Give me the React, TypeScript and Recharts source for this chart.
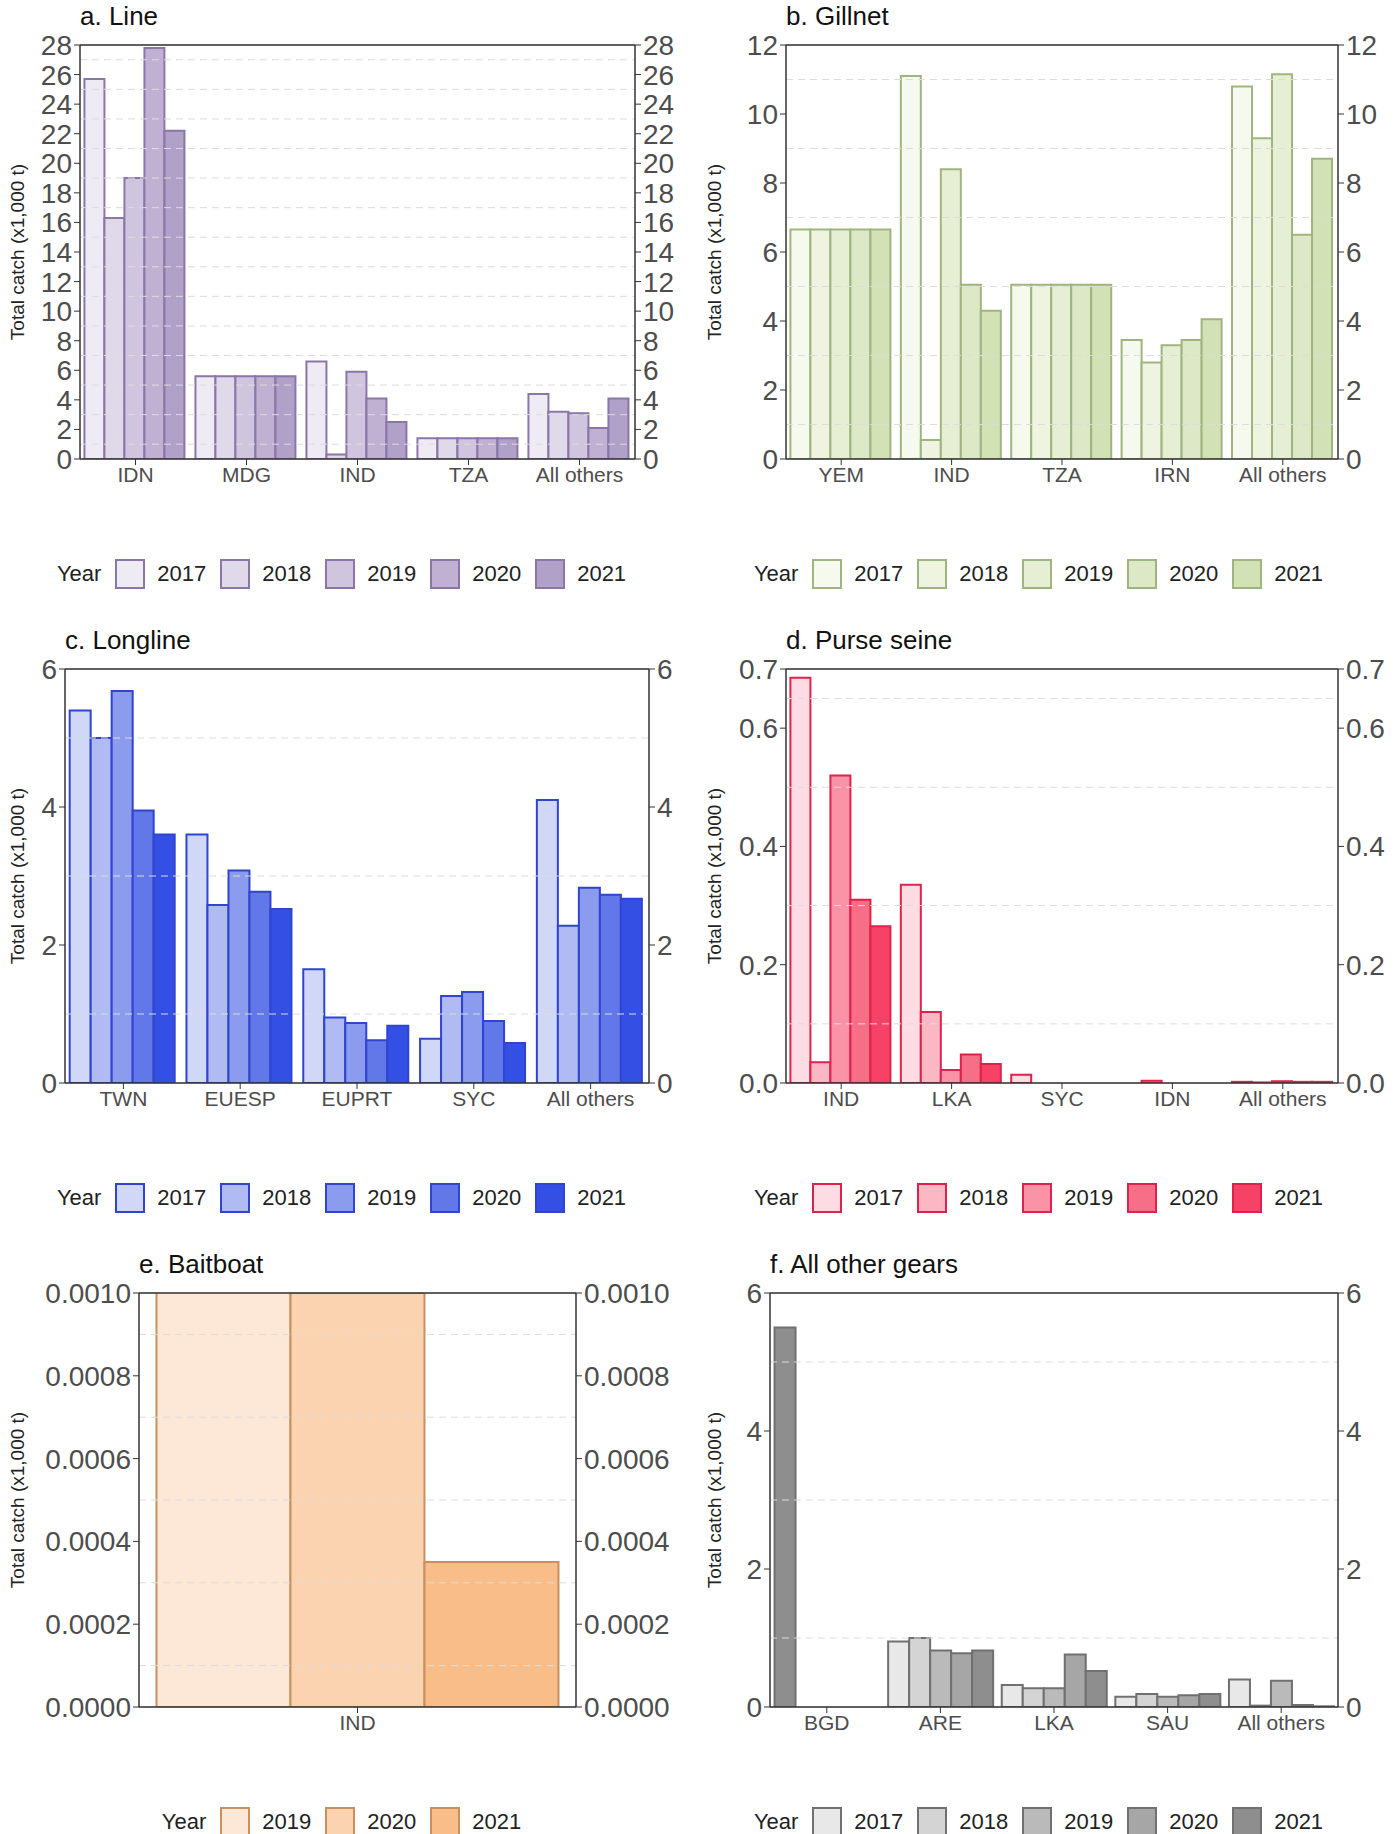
import React from "react";
import { BarChart, Bar, XAxis, YAxis, CartesianGrid, ReferenceLine, Cell } from "recharts";

document.body.style.margin = "0";

const YEARS5 = ["2017", "2018", "2019", "2020", "2021"];
const YEARS3 = ["2019", "2020", "2021"];

// a. Line
const lineCats = ["IDN", "MDG", "IND", "TZA", "All others"];
const lineVals = [
  [25.7, 16.3, 19.0, 27.8, 22.2],
  [5.6, 5.6, 5.6, 5.6, 5.6],
  [6.6, 0.3, 5.9, 4.1, 2.5],
  [1.4, 1.4, 1.4, 1.4, 1.4],
  [4.4, 3.2, 3.1, 2.1, 4.1],
];
const lineTicks = [0, 2, 4, 6, 8, 10, 12, 14, 16, 18, 20, 22, 24, 26, 28];

// b. Gillnet
const gillCats = ["YEM", "IND", "TZA", "IRN", "All others"];
const gillVals = [
  [6.65, 6.65, 6.65, 6.65, 6.65],
  [11.1, 0.55, 8.4, 5.05, 4.3],
  [5.05, 5.05, 5.05, 5.05, 5.05],
  [3.45, 2.8, 3.3, 3.45, 4.05],
  [10.8, 9.3, 11.15, 6.5, 8.7],
];
const gillTicks = [0, 2, 4, 6, 8, 10, 12];

// c. Longline
const longCats = ["TWN", "EUESP", "EUPRT", "SYC", "All others"];
const longVals = [
  [5.4, 5.0, 5.68, 3.95, 3.6],
  [3.6, 2.58, 3.08, 2.77, 2.52],
  [1.65, 0.95, 0.87, 0.62, 0.83],
  [0.64, 1.26, 1.32, 0.9, 0.58],
  [4.1, 2.28, 2.83, 2.73, 2.67],
];
const longTicks = [0, 2, 4, 6];

// d. Purse seine
const psCats = ["IND", "LKA", "SYC", "IDN", "All others"];
const psVals = [
  [0.685, 0.035, 0.52, 0.31, 0.265],
  [0.335, 0.12, 0.022, 0.048, 0.032],
  [0.014, 0, 0, 0, 0],
  [0, 0.004, 0, 0, 0],
  [0.002, 0.001, 0.003, 0.002, 0.002],
];
const psTicks = [0, 0.2, 0.4, 0.6, 0.7];

// e. Baitboat
const bbCats = ["IND"];
const bbVals = [[0.0012, 0.001, 0.00035]];
const bbTicks = [0, 0.0002, 0.0004, 0.0006, 0.0008, 0.001];

// f. All other gears (BGD only reports 2021; ggplot dodges it into the first slot)
const ogCats = ["BGD", "ARE", "LKA", "SAU", "All others"];
const ogVals = [
  [5.5, 0, 0, 0, 0],
  [0.95, 1.0, 0.82, 0.78, 0.82],
  [0.32, 0.27, 0.27, 0.76, 0.52],
  [0.15, 0.19, 0.15, 0.17, 0.19],
  [0.4, 0.02, 0.38, 0.03, 0.01],
];
const ogTicks = [0, 2, 4, 6];
const ogOnlyLast = ["BGD"];

const FONT = "'Liberation Sans', Arial, sans-serif";
const PANEL_W = 697;
const PANEL_H = 624;
const CHART_H = 500;

interface PanelProps {
  title: string;
  cats: string[];
  vals: number[][];
  years: string[];
  ticks: number[];
  fills: string[];
  stroke: string;
  left: number;
  right: number;
  digits: number;
  onlyLast?: string[];
}

function Panel({ title, cats, vals, years, ticks, fills, stroke, left, right, digits, onlyLast = [] }: PanelProps) {
  const data = cats.map((c, i) => {
    const row: Record<string, any> = { cat: c };
    years.forEach((y, j) => (row[y] = vals[i][j]));
    return row;
  });
  const max = ticks[ticks.length - 1];
  const minors = ticks.slice(1).map((t, i) => (t + ticks[i]) / 2);
  const fmt = (v: number) => (digits === 0 ? String(v) : v.toFixed(digits));
  const tickStyle = { fontSize: 28, fill: "#4d4d4d", fontFamily: FONT };
  return (
    <div style={{ position: "relative", width: PANEL_W, height: PANEL_H, fontFamily: FONT }}>
      <div style={{ position: "absolute", left, top: 1, fontSize: 26, color: "#111" }}>{title}</div>
      <div
        style={{
          position: "absolute",
          left: 18,
          top: 252,
          fontSize: 19,
          color: "#222",
          transform: "translate(-50%, -50%) rotate(-90deg)",
          whiteSpace: "nowrap",
        }}
      >
        Total catch (x1,000 t)
      </div>
      <BarChart
        width={PANEL_W}
        height={CHART_H}
        data={data}
        margin={{ top: 45, right: 0, bottom: 1, left: 0 }}
        barCategoryGap="4%"
        barGap={0}
      >
        <CartesianGrid horizontal vertical={false} stroke="#dcdcdc" strokeWidth={1.3} />
        {minors.map((m) => (
          <ReferenceLine key={m} y={m} yAxisId="l" stroke="#dcdcdc" strokeDasharray="7 5" />
        ))}
        <ReferenceLine y={max} yAxisId="l" stroke="#333" strokeWidth={1.5} />
        <XAxis
          dataKey="cat"
          height={40}
          tick={{ fontSize: 21, fill: "#4d4d4d", fontFamily: FONT }}
          tickLine={{ stroke: "#333" }}
          axisLine={{ stroke: "#333", strokeWidth: 1.5 }}
          tickSize={6}
          interval={0}
        />
        <YAxis
          yAxisId="l"
          width={left}
          domain={[0, max]}
          ticks={ticks}
          interval={0}
          allowDataOverflow
          tickFormatter={fmt}
          tick={tickStyle}
          tickLine={{ stroke: "#333" }}
          axisLine={{ stroke: "#333", strokeWidth: 1.5 }}
          tickSize={6}
        />
        <YAxis
          yAxisId="r"
          orientation="right"
          width={right}
          domain={[0, max]}
          ticks={ticks}
          interval={0}
          allowDataOverflow
          tickFormatter={fmt}
          tick={tickStyle}
          tickLine={{ stroke: "#333" }}
          axisLine={{ stroke: "#333", strokeWidth: 1.5 }}
          tickSize={6}
        />
        {years.map((y, j) => (
          <Bar
            key={y}
            dataKey={y}
            yAxisId="l"
            fill={fills[j]}
            stroke={stroke}
            strokeWidth={2}
            isAnimationActive={false}
          >
            {data.map((d) => (
              <Cell key={d.cat} fill={onlyLast.includes(d.cat) ? fills[fills.length - 1] : fills[j]} />
            ))}
          </Bar>
        ))}
      </BarChart>
      <div
        style={{
          position: "absolute",
          top: 559,
          left: 0,
          width: PANEL_W,
          display: "flex",
          justifyContent: "center",
          alignItems: "center",
          fontSize: 22,
          color: "#222",
        }}
      >
        <span style={{ marginRight: 14 }}>Year</span>
        {years.map((y, j) => (
          <span key={y} style={{ display: "flex", alignItems: "center", marginRight: 14 }}>
            <span
              style={{
                width: 26,
                height: 26,
                background: fills[j],
                border: `2px solid ${stroke}`,
                marginRight: 12,
                display: "inline-block",
              }}
            />
            {y}
          </span>
        ))}
      </div>
    </div>
  );
}

export default function App() {
  return (
    <div style={{ width: 1394, height: 1834, overflow: "hidden", background: "#fff", display: "flex", flexWrap: "wrap" }}>
      <Panel title="a. Line" cats={lineCats} vals={lineVals} years={YEARS5} ticks={lineTicks}
        fills={["#efebf4", "#e0d9e9", "#d0c5de", "#c0b1d3", "#b0a1c8"]} stroke="#8a76a8" left={80} right={62} digits={0} />
      <Panel title="b. Gillnet" cats={gillCats} vals={gillVals} years={YEARS5} ticks={gillTicks}
        fills={["#f6f9ee", "#eef4e0", "#e6efd3", "#dde8c6", "#d3e2b6"]} stroke="#9fb57f" left={89} right={56} digits={0} />
      <Panel title="c. Longline" cats={longCats} vals={longVals} years={YEARS5} ticks={longTicks}
        fills={["#d1d8f7", "#afbbf2", "#8b9bee", "#6277e8", "#3450e4"]} stroke="#2f44d0" left={65} right={48} digits={0} />
      <Panel title="d. Purse seine" cats={psCats} vals={psVals} years={YEARS5} ticks={psTicks}
        fills={["#fddde3", "#fbb7c3", "#f993a5", "#f76f87", "#f54266"]} stroke="#e0214c" left={89} right={56} digits={1} />
      <Panel title="e. Baitboat" cats={bbCats} vals={bbVals} years={YEARS3} ticks={bbTicks}
        fills={["#fde8d8", "#fcd3b0", "#f9bd8a"]} stroke="#c8905e" left={139} right={121} digits={4} />
      <Panel title="f. All other gears" cats={ogCats} vals={ogVals} years={YEARS5} ticks={ogTicks}
        fills={["#e8e8e8", "#d4d4d4", "#bababa", "#a6a6a6", "#8e8e8e"]} stroke="#707070" left={73} right={56} digits={0}
        onlyLast={ogOnlyLast} />
    </div>
  );
}
